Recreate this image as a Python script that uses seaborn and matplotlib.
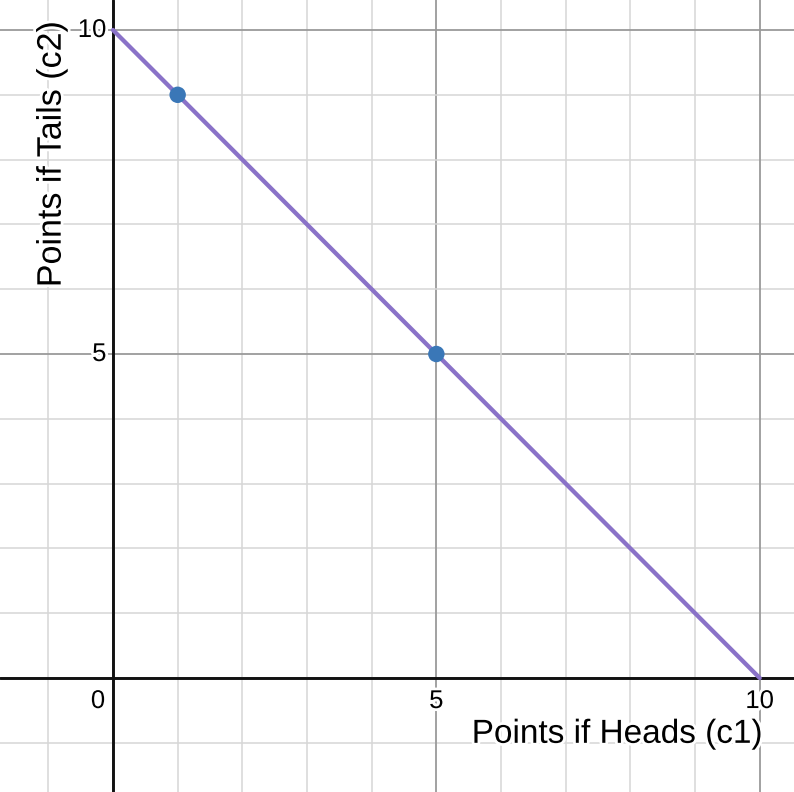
import matplotlib.pyplot as plt
import matplotlib.patheffects as pe
import numpy as np
import pandas as pd
import seaborn as sns

# budget line c1 + c2 = 10 and the two highlighted choices
line_c1 = [0, 10]
line_c2 = [10, 0]
point_c1 = [1, 5]
point_c2 = [9, 5]
x_ticks = [5, 10]
y_ticks = [5, 10]
x_label = "Points if Heads (c1)"
y_label = "Points if Tails (c2)"

sns.set_style("white")
plt.rcParams['font.family'] = ['Liberation Sans', 'DejaVu Sans']

fig = plt.figure(figsize=(7.94, 7.92), dpi=100)
ax = fig.add_axes([0, 0, 1, 1])
ax.set_xlim(-1.747, 10.53)
ax.set_ylim(-1.759, 10.463)

# desmos style grid
for v in range(-1, 11):
    major = v % 5 == 0
    col = "#9a9a9a" if major else "#d6d6d6"
    lw = 1.3 if major else 1.1
    ax.axvline(v, color=col, lw=lw, zorder=0)
    ax.axhline(v, color=col, lw=lw, zorder=0)
ax.axvline(0, color="#111111", lw=2.1, zorder=1)
ax.axhline(0, color="#111111", lw=2.1, zorder=1)

df_line = pd.DataFrame({"c1": line_c1, "c2": line_c2})
df_pts = pd.DataFrame({"c1": point_c1, "c2": point_c2})
sns.lineplot(data=df_line, x="c1", y="c2", color="#8a72c8", lw=3.1, ax=ax, zorder=3)
sns.scatterplot(data=df_pts, x="c1", y="c2", color="#3a77b7", s=140,
                edgecolor="none", ax=ax, zorder=4)

halo = [pe.withStroke(linewidth=4, foreground="white")]
tick_kw = dict(fontsize=18.5, color="black", path_effects=halo, zorder=5)
for t in x_ticks:
    ax.text(t, -0.17, str(t), ha="center", va="top", **tick_kw)
for t in y_ticks:
    ax.text(-0.1, t, str(t), ha="right", va="center", **tick_kw)
ax.text(-0.12, -0.17, "0", ha="right", va="top", **tick_kw)

ax.text(10.05, -1.0, x_label, ha="right", va="baseline", fontsize=24,
        color="black", path_effects=halo, zorder=5)
ax.text(-0.94, 10.14, y_label, ha="center", va="top", rotation=90, fontsize=24.5,
        color="black", path_effects=halo, zorder=5)

ax.set_xlabel("")
ax.set_ylabel("")
ax.set_xticks([])
ax.set_yticks([])
for s in ax.spines.values():
    s.set_visible(False)

fig.savefig("out.png", dpi=100)
